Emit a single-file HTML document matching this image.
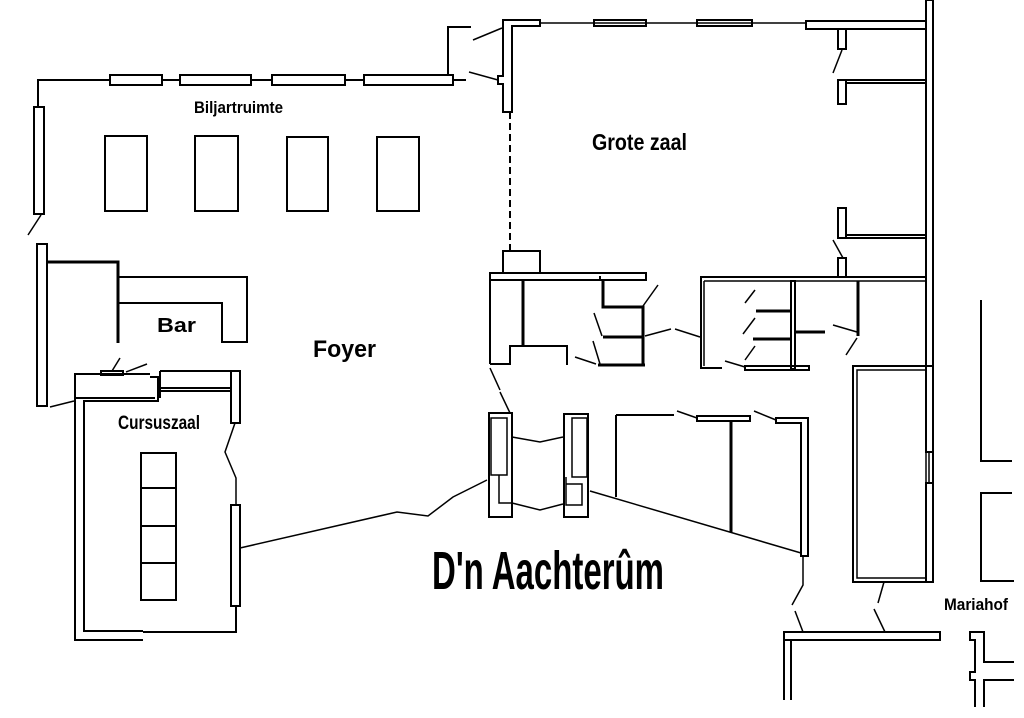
<!DOCTYPE html>
<html><head><meta charset="utf-8"><style>
html,body{margin:0;padding:0;background:#fff;}
svg{display:block;}
text{font-family:"Liberation Sans",sans-serif;font-weight:bold;fill:#000;}
</style></head><body>
<svg width="1024" height="718" viewBox="0 0 1024 718" xmlns="http://www.w3.org/2000/svg">
<g fill="none" stroke="#000" stroke-width="2">
<polyline points="38,107 38,80 110,80"/>
<rect x="110" y="75" width="52" height="10"/>
<line x1="162" y1="80" x2="180" y2="80"/>
<rect x="180" y="75" width="71" height="10"/>
<line x1="251" y1="80" x2="272" y2="80"/>
<rect x="272" y="75" width="73" height="10"/>
<line x1="345" y1="80" x2="364" y2="80"/>
<rect x="364" y="75" width="89" height="10"/>
<line x1="453" y1="80" x2="466" y2="80"/>
<polyline points="448,75 448,27 471,27"/>
<line x1="473" y1="40" x2="502" y2="28" stroke-width="1.5"/>
<line x1="469" y1="72" x2="498" y2="80" stroke-width="1.5"/>
<rect x="34" y="107" width="10" height="107"/>
<line x1="28" y1="235" x2="41" y2="215" stroke-width="1.5"/>
<rect x="37" y="244" width="10" height="162"/>
<rect x="105" y="136" width="42" height="75"/>
<rect x="195" y="136" width="43" height="75"/>
<rect x="287" y="137" width="41" height="74"/>
<rect x="377" y="137" width="42" height="74"/>
<polyline points="47,262 118,262 118,343" stroke-width="3"/>
<polyline points="118,277 247,277 247,342 222,342 222,303 118,303"/>
<polygon points="503,20 540,20 540,26 512,26 512,112 503,112 503,84 498,84 498,76 503,76"/>
<line x1="510" y1="112" x2="510" y2="250" stroke-dasharray="7,4"/>
<line x1="540" y1="23" x2="806" y2="23" stroke-width="1.5"/>
<rect x="594" y="20" width="52" height="6"/>
<rect x="697" y="20" width="55" height="6"/>
<rect x="806" y="21" width="120" height="8"/>
<rect x="838" y="29" width="8" height="20"/>
<line x1="842" y1="50" x2="833" y2="73" stroke-width="1.5"/>
<rect x="838" y="80" width="8" height="24"/>
<rect x="846" y="80" width="80" height="3"/>
<rect x="838" y="208" width="8" height="30"/>
<rect x="846" y="235" width="80" height="3"/>
<line x1="833" y1="240" x2="843" y2="258" stroke-width="1.5"/>
<rect x="838" y="258" width="8" height="19"/>
<rect x="926" y="0" width="7" height="452"/>
<line x1="929" y1="452" x2="929" y2="483" stroke-width="1.5"/>
<rect x="926" y="483" width="7" height="99"/>
<polyline points="490,364 490,273 503,273 503,251 540,251 540,273"/>
<rect x="490" y="273" width="156" height="7"/>
<line x1="600" y1="276" x2="600" y2="280"/>
<polyline points="490,364 510,364 510,346 567,346 567,365"/>
<line x1="523" y1="280" x2="523" y2="346" stroke-width="3"/>
<polyline points="603,280 603,307 643,307 643,366" stroke-width="3"/>
<line x1="603" y1="337" x2="643" y2="337" stroke-width="3"/>
<line x1="598" y1="365" x2="645" y2="365" stroke-width="3"/>
<line x1="643" y1="306" x2="658" y2="285" stroke-width="1.5"/>
<line x1="602" y1="336" x2="594" y2="313" stroke-width="1.5"/>
<line x1="600" y1="364" x2="593" y2="341" stroke-width="1.5"/>
<line x1="596" y1="364" x2="575" y2="357" stroke-width="1.5"/>
<line x1="645" y1="336" x2="671" y2="329" stroke-width="1.5"/>
<line x1="675" y1="329" x2="700" y2="337" stroke-width="1.5"/>
<polyline points="722,368 701,368 701,277 926,277" stroke-width="2"/>
<line x1="704" y1="281" x2="926" y2="281" stroke-width="1.5"/>
<line x1="704" y1="281" x2="704" y2="366" stroke-width="1.5"/>
<rect x="791" y="281" width="4" height="88"/>
<line x1="756" y1="311" x2="791" y2="311" stroke-width="3"/>
<line x1="753" y1="339" x2="791" y2="339" stroke-width="3"/>
<line x1="795" y1="332" x2="825" y2="332" stroke-width="3"/>
<rect x="745" y="366" width="64" height="4"/>
<line x1="858" y1="281" x2="858" y2="336" stroke-width="3"/>
<line x1="755" y1="290" x2="745" y2="303" stroke-width="1.5"/>
<line x1="755" y1="318" x2="743" y2="334" stroke-width="1.5"/>
<line x1="755" y1="346" x2="745" y2="360" stroke-width="1.5"/>
<line x1="745" y1="367" x2="725" y2="361" stroke-width="1.5"/>
<line x1="857" y1="332" x2="833" y2="325" stroke-width="1.5"/>
<line x1="857" y1="338" x2="846" y2="355" stroke-width="1.5"/>
<rect x="853" y="366" width="80" height="216"/>
<rect x="857" y="370" width="69" height="208" stroke-width="1.5"/>
<line x1="884" y1="582" x2="878" y2="603" stroke-width="1.5"/>
<line x1="874" y1="609" x2="885" y2="632" stroke-width="1.5"/>
<polyline points="981,300 981,461 1012,461"/>
<polyline points="1012,493 981,493 981,581 1014,581"/>
<rect x="784" y="632" width="156" height="8"/>
<polyline points="784,632 784,700"/>
<polyline points="791,640 791,700"/>
<polyline points="1014,662 984,662 984,632 970,632 970,640 975,640 975,672 970,672 970,680 975,680 975,707"/>
<polyline points="984,707 984,680 1014,680"/>
<polyline points="143,640 75,640 75,374 150,374"/>
<polyline points="143,631 84,631 84,401 158,401 158,377 150,377"/>
<line x1="75" y1="398" x2="155" y2="398"/>
<rect x="101" y="371" width="22" height="4"/>
<line x1="112" y1="371" x2="120" y2="358" stroke-width="1.5"/>
<line x1="126" y1="372" x2="147" y2="364" stroke-width="1.5"/>
<line x1="50" y1="407" x2="74" y2="401" stroke-width="1.5"/>
<line x1="160" y1="371" x2="240" y2="371"/>
<line x1="160" y1="388" x2="232" y2="388"/>
<line x1="160" y1="391" x2="232" y2="391"/>
<line x1="160" y1="371" x2="160" y2="398"/>
<rect x="231" y="371" width="9" height="52"/>
<polyline points="235,423 225,452 236,478 236,505" stroke-width="1.5"/>
<rect x="231" y="505" width="9" height="101"/>
<polyline points="236,606 236,632 143,632"/>
<rect x="141" y="453" width="35" height="147"/>
<line x1="141" y1="488" x2="176" y2="488"/>
<line x1="141" y1="526" x2="176" y2="526"/>
<line x1="141" y1="563" x2="176" y2="563"/>
<polyline points="240,548 397,512 428,516 453,497 487,480" stroke-width="1.5"/>
<line x1="490" y1="368" x2="500" y2="390" stroke-width="1.5"/>
<line x1="500" y1="392" x2="510" y2="413" stroke-width="1.5"/>
<rect x="489" y="413" width="23" height="104"/>
<rect x="491" y="418" width="16" height="57" stroke-width="1.5"/>
<polyline points="499,475 499,503 512,503" stroke-width="1.5"/>
<rect x="564" y="414" width="24" height="103"/>
<rect x="572" y="418" width="15" height="59" stroke-width="1.5"/>
<polyline points="566,477 566,505 582,505 582,484 566,484" stroke-width="1.5"/>
<polyline points="512,437 540,442 563,437" stroke-width="1.5"/>
<polyline points="512,503 540,510 563,504" stroke-width="1.5"/>
<line x1="616" y1="415" x2="616" y2="497"/>
<line x1="616" y1="415" x2="674" y2="415"/>
<line x1="677" y1="411" x2="697" y2="418" stroke-width="1.5"/>
<rect x="697" y="416" width="53" height="5"/>
<line x1="731" y1="421" x2="731" y2="532" stroke-width="3"/>
<line x1="754" y1="411" x2="776" y2="420" stroke-width="1.5"/>
<polygon points="776,418 808,418 808,556 801,556 801,423 776,423"/>
<line x1="590" y1="491" x2="801" y2="553" stroke-width="1.5"/>
<polyline points="803,556 803,585 792,605" stroke-width="1.5"/>
<line x1="795" y1="611" x2="803" y2="632" stroke-width="1.5"/>
</g>
<text x="194" y="113" font-size="17" textLength="89" lengthAdjust="spacingAndGlyphs">Biljartruimte</text>
<text x="592" y="150" font-size="23" textLength="95" lengthAdjust="spacingAndGlyphs">Grote zaal</text>
<text x="157" y="332" font-size="20" textLength="39" lengthAdjust="spacingAndGlyphs">Bar</text>
<text x="313" y="357" font-size="24" textLength="63" lengthAdjust="spacingAndGlyphs">Foyer</text>
<text x="118" y="429" font-size="19" textLength="82" lengthAdjust="spacingAndGlyphs">Cursuszaal</text>
<text x="432" y="589" font-size="54" textLength="232" lengthAdjust="spacingAndGlyphs">D'n Aachterûm</text>
<text x="944" y="610" font-size="17" textLength="64" lengthAdjust="spacingAndGlyphs">Mariahof</text>
</svg>
</body></html>
